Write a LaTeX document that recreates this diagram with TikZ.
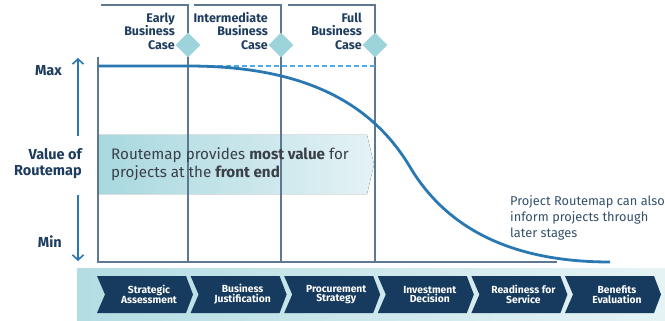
\documentclass[tikz,border=0pt]{standalone}
\usepackage{fontspec}
\setmainfont{Fira Sans}
\usetikzlibrary{shapes.geometric,arrows.meta}
\definecolor{navy}{HTML}{1D3C5E}
\definecolor{chevc}{HTML}{163B5E}
\definecolor{axisgray}{HTML}{5F7891}
\definecolor{curveblue}{HTML}{2A78B2}
\definecolor{dashblue}{HTML}{4FAAE6}
\definecolor{diac}{HTML}{9DD4DC}
\definecolor{bandL}{HTML}{A8D8DF}
\definecolor{bandR}{HTML}{E4F2F4}
\definecolor{botL}{HTML}{B3DDE3}
\definecolor{botR}{HTML}{E6F3F5}
\definecolor{bodytext}{HTML}{3A3F48}
\definecolor{notetext}{HTML}{34506B}
\begin{document}
\begin{tikzpicture}[x=1pt,y=-1pt,
  axisline/.style={draw=axisgray, line width=1.1pt},
  toplbl/.style={font=\fontsize{12.5}{13.5}\selectfont\bfseries, text=navy, align=right, inner sep=0pt},
  sidelbl/.style={font=\fontsize{14.5}{16}\selectfont\bfseries, text=navy, align=right, inner sep=0pt},
  dia/.style={diamond, fill=diac, minimum width=25pt, minimum height=25pt, inner sep=0pt},
  chevtext/.style={font=\fontsize{10.3}{9.8}\selectfont\bfseries, text=white, align=center, inner sep=0pt},
  valarrow/.style={draw=curveblue, line width=1.8pt, -{Straight Barb[length=5pt,width=11pt,line width=1.6pt]}},
]
\useasboundingbox (0,0) rectangle (665,321);

% bottom band
\fill[left color=botL, right color=botR] (77,268) rectangle (665,320);

% front-end band
\fill[left color=bandL, right color=bandR] (98,135) -- (367,135) -- (374,164.5) -- (367,194) -- (98,194) -- cycle;

% frame lines
\draw[axisline] (101,5) -- (188,5) -- (188,262);
\draw[axisline] (194,5) -- (281,5) -- (281,262);
\draw[axisline] (288,5) -- (375,5) -- (375,262);
\draw[axisline] (98,57) -- (98,262) -- (557,262);

% dashed max line
\draw[dashblue, line width=1.2pt, dash pattern=on 5pt off 3pt] (98,66) -- (375,66);

% curve
\draw[curveblue, line width=2.8pt] (98,66) -- (188,66) .. controls (300,66) and (370,100) .. (410,167) .. controls (450,234) and (520,262) .. (610,262);

% diamonds
\node[dia] (d1) at (188,45) {};
\node[dia] (d2) at (281,45) {};
\node[dia] (d3) at (375,45) {};

% top labels
\node[toplbl, anchor=east] (l1) at (175,31) {Early\\Business\\Case};
\node[toplbl, anchor=east] (l2) at (268,31) {Intermediate\\Business\\Case};
\node[toplbl, anchor=east] (l3) at (362,31) {Full\\Business\\Case};

% side labels and arrows
\node[sidelbl, anchor=east] (max) at (62,71) {Max};
\node[sidelbl, anchor=east] (val) at (82,164) {Value of\\Routemap};
\node[sidelbl, anchor=east] (min) at (62,242) {Min};
\coordinate (atop) at (78,58);
\coordinate (abot) at (78,261);
\coordinate (a1) at (78,136);
\coordinate (a2) at (78,195);
\draw[valarrow] (a1) -- (atop);
\draw[valarrow] (a2) -- (abot);

% band text
\node[font=\fontsize{15.2}{18}\selectfont, text=bodytext, align=left, anchor=west, inner sep=0pt] (band) at (111,164.5)
  {Routemap provides \textbf{most value} for\\projects at the \textbf{front end}};

% note
\node[font=\fontsize{12.8}{16}\selectfont, text=notetext, align=left, anchor=north west, inner sep=0pt] (note) at (510,195)
  {Project Routemap can also\\inform projects through\\later stages};

% chevrons
\foreach \i/\t in {0/{Strategic\\Assessment},1/{Business\\Justification},2/{Procurement\\Strategy},3/{Investment\\Decision},4/{Readiness for\\Service},5/{Benefits\\Evaluation}}{
  \pgfmathsetmacro{\xo}{97+93.6*\i}
  \fill[chevc] (\xo,276) -- (\xo+89,276) -- (\xo+96,294.5) -- (\xo+89,313) -- (\xo,313) -- (\xo+8,294.5) -- cycle;
  \node[chevtext] (c\i) at (\xo+52,294.5) {\t};
}
\end{tikzpicture}
\end{document}
